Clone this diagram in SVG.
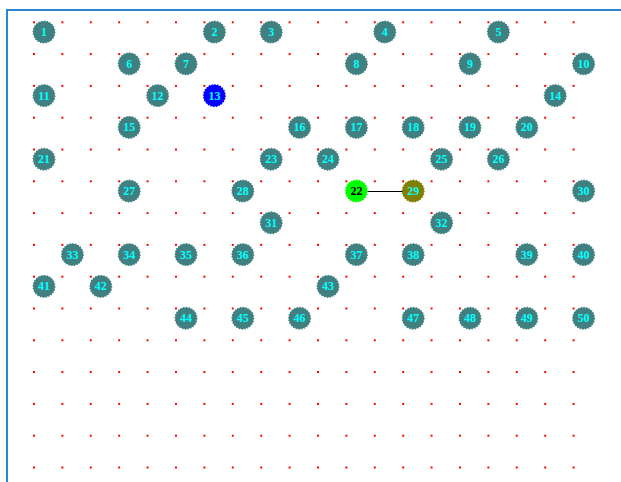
<svg xmlns="http://www.w3.org/2000/svg" width="621" height="482" viewBox="0 0 621 482">
<style>
.n circle{fill:#408080;stroke:#408080;stroke-width:1.4;stroke-dasharray:1.3 1.5}
.n text{font-family:"Liberation Serif",serif;font-weight:bold;font-size:12px;fill:#00ffff;text-anchor:middle}
.b circle{fill:#0000ff;stroke:#0000ff}
.g circle{fill:#00ff00;stroke:#00ff00}
.g text{fill:#000000}
.o circle{fill:#808000;stroke:#808000}
.e line{stroke:#000000;stroke-width:1;shape-rendering:crispEdges}
</style>
<defs>
<pattern id="dots" patternUnits="userSpaceOnUse" x="33" y="21.3" width="28.4" height="31.8">
<rect x="0" y="0" width="2" height="2" fill="#ff0000" shape-rendering="crispEdges"/>
</pattern>
</defs>
<rect width="621" height="482" fill="#ffffff"/>
<path d="M7,482 V10 H621" fill="none" stroke="#2a85d4" stroke-width="2"/>
<rect x="33" y="21.3" width="544" height="449" fill="url(#dots)" shape-rendering="crispEdges"/>
<g id="connectors" class="e">
<line x1="356.4" y1="191.5" x2="413.2" y2="191.5"/>
</g>
<g id="node1" class="n" transform="translate(44,32)"><circle r="10.8"/><text y="4">1</text></g>
<g id="node2" class="n" transform="translate(214.4,32)"><circle r="10.8"/><text y="4">2</text></g>
<g id="node3" class="n" transform="translate(271.2,32)"><circle r="10.8"/><text y="4">3</text></g>
<g id="node4" class="n" transform="translate(384.8,32)"><circle r="10.8"/><text y="4">4</text></g>
<g id="node5" class="n" transform="translate(498.4,32)"><circle r="10.8"/><text y="4">5</text></g>
<g id="node6" class="n" transform="translate(129.2,63.8)"><circle r="10.8"/><text y="4">6</text></g>
<g id="node7" class="n" transform="translate(186,63.8)"><circle r="10.8"/><text y="4">7</text></g>
<g id="node8" class="n" transform="translate(356.4,63.8)"><circle r="10.8"/><text y="4">8</text></g>
<g id="node9" class="n" transform="translate(470,63.8)"><circle r="10.8"/><text y="4">9</text></g>
<g id="node10" class="n" transform="translate(583.6,63.8)"><circle r="10.8"/><text y="4">10</text></g>
<g id="node11" class="n" transform="translate(44,95.6)"><circle r="10.8"/><text y="4">11</text></g>
<g id="node12" class="n" transform="translate(157.6,95.6)"><circle r="10.8"/><text y="4">12</text></g>
<g id="node13" class="n b" transform="translate(214.4,95.6)"><circle r="10.8"/><text y="4">13</text></g>
<g id="node14" class="n" transform="translate(555.2,95.6)"><circle r="10.8"/><text y="4">14</text></g>
<g id="node15" class="n" transform="translate(129.2,127.4)"><circle r="10.8"/><text y="4">15</text></g>
<g id="node16" class="n" transform="translate(299.6,127.4)"><circle r="10.8"/><text y="4">16</text></g>
<g id="node17" class="n" transform="translate(356.4,127.4)"><circle r="10.8"/><text y="4">17</text></g>
<g id="node18" class="n" transform="translate(413.2,127.4)"><circle r="10.8"/><text y="4">18</text></g>
<g id="node19" class="n" transform="translate(470,127.4)"><circle r="10.8"/><text y="4">19</text></g>
<g id="node20" class="n" transform="translate(526.8,127.4)"><circle r="10.8"/><text y="4">20</text></g>
<g id="node21" class="n" transform="translate(44,159.2)"><circle r="10.8"/><text y="4">21</text></g>
<g id="node23" class="n" transform="translate(271.2,159.2)"><circle r="10.8"/><text y="4">23</text></g>
<g id="node24" class="n" transform="translate(328,159.2)"><circle r="10.8"/><text y="4">24</text></g>
<g id="node25" class="n" transform="translate(441.6,159.2)"><circle r="10.8"/><text y="4">25</text></g>
<g id="node26" class="n" transform="translate(498.4,159.2)"><circle r="10.8"/><text y="4">26</text></g>
<g id="node27" class="n" transform="translate(129.2,191)"><circle r="10.8"/><text y="4">27</text></g>
<g id="node28" class="n" transform="translate(242.8,191)"><circle r="10.8"/><text y="4">28</text></g>
<g id="node22" class="n g" transform="translate(356.4,191)"><circle r="10.8"/><text y="4">22</text></g>
<g id="node29" class="n o" transform="translate(413.2,191)"><circle r="10.8"/><text y="4">29</text></g>
<g id="node30" class="n" transform="translate(583.6,191)"><circle r="10.8"/><text y="4">30</text></g>
<g id="node31" class="n" transform="translate(271.2,222.8)"><circle r="10.8"/><text y="4">31</text></g>
<g id="node32" class="n" transform="translate(441.6,222.8)"><circle r="10.8"/><text y="4">32</text></g>
<g id="node33" class="n" transform="translate(72.4,254.6)"><circle r="10.8"/><text y="4">33</text></g>
<g id="node34" class="n" transform="translate(129.2,254.6)"><circle r="10.8"/><text y="4">34</text></g>
<g id="node35" class="n" transform="translate(186,254.6)"><circle r="10.8"/><text y="4">35</text></g>
<g id="node36" class="n" transform="translate(242.8,254.6)"><circle r="10.8"/><text y="4">36</text></g>
<g id="node37" class="n" transform="translate(356.4,254.6)"><circle r="10.8"/><text y="4">37</text></g>
<g id="node38" class="n" transform="translate(413.2,254.6)"><circle r="10.8"/><text y="4">38</text></g>
<g id="node39" class="n" transform="translate(526.8,254.6)"><circle r="10.8"/><text y="4">39</text></g>
<g id="node40" class="n" transform="translate(583.6,254.6)"><circle r="10.8"/><text y="4">40</text></g>
<g id="node41" class="n" transform="translate(44,286.4)"><circle r="10.8"/><text y="4">41</text></g>
<g id="node42" class="n" transform="translate(100.8,286.4)"><circle r="10.8"/><text y="4">42</text></g>
<g id="node43" class="n" transform="translate(328,286.4)"><circle r="10.8"/><text y="4">43</text></g>
<g id="node44" class="n" transform="translate(186,318.2)"><circle r="10.8"/><text y="4">44</text></g>
<g id="node45" class="n" transform="translate(242.8,318.2)"><circle r="10.8"/><text y="4">45</text></g>
<g id="node46" class="n" transform="translate(299.6,318.2)"><circle r="10.8"/><text y="4">46</text></g>
<g id="node47" class="n" transform="translate(413.2,318.2)"><circle r="10.8"/><text y="4">47</text></g>
<g id="node48" class="n" transform="translate(470,318.2)"><circle r="10.8"/><text y="4">48</text></g>
<g id="node49" class="n" transform="translate(526.8,318.2)"><circle r="10.8"/><text y="4">49</text></g>
<g id="node50" class="n" transform="translate(583.6,318.2)"><circle r="10.8"/><text y="4">50</text></g>
</svg>
